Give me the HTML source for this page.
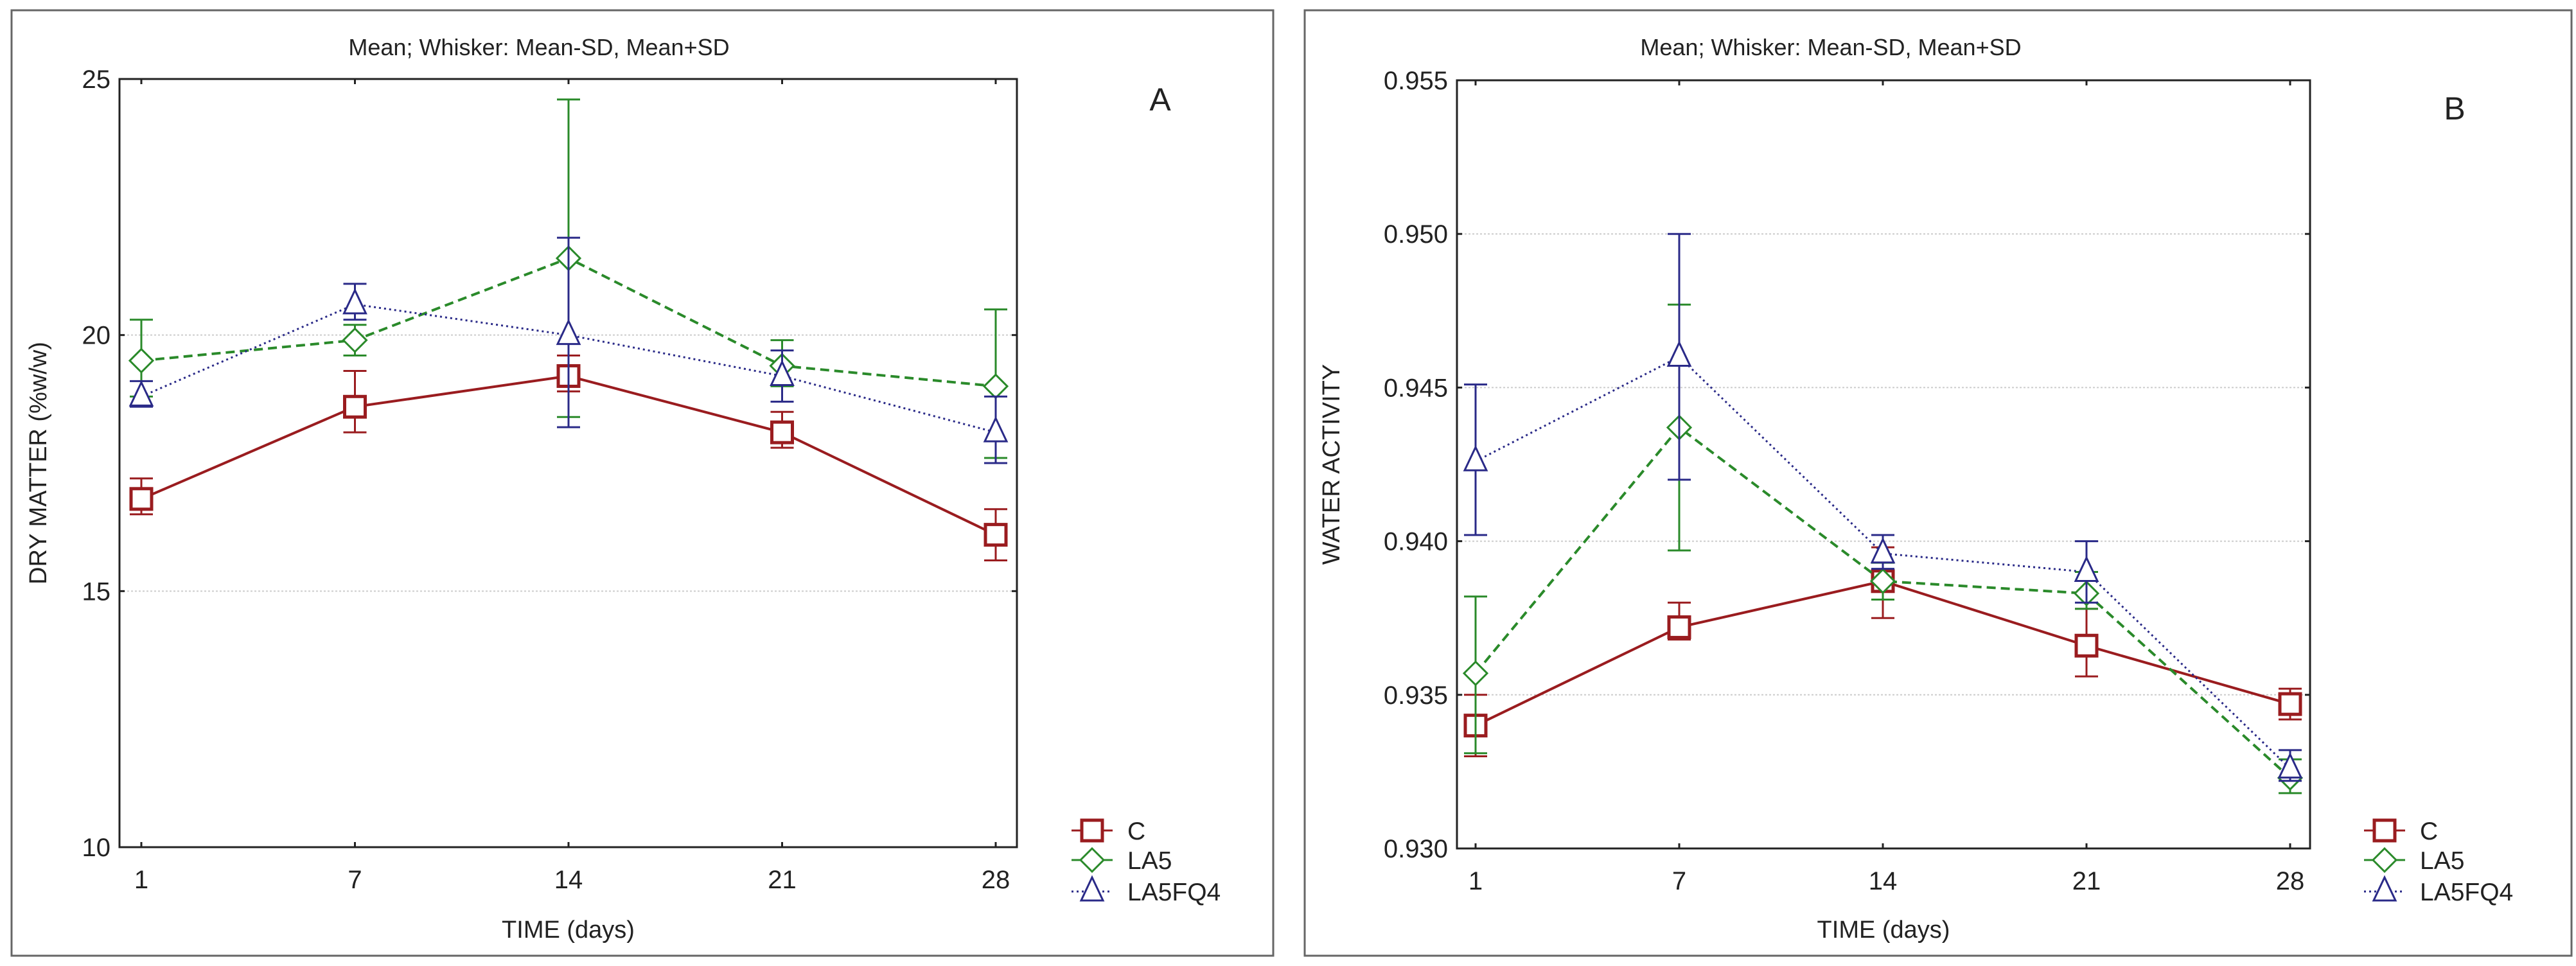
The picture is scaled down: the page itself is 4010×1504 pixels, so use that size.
<!DOCTYPE html>
<html><head><meta charset="utf-8"><style>
body{margin:0;background:#fff}
svg{display:block;font-family:"Liberation Sans",Arial,sans-serif}
</style></head><body>
<svg id="root" width="4010" height="1504" viewBox="0 0 4010 1504" xmlns="http://www.w3.org/2000/svg"></svg>
<script>
const categories = ["1","7","14","21","28"];
const seriesNames = ["C","LA5","LA5FQ4"];
// Panel A: dry matter
const aMean = [[16.8,18.6,19.2,18.1,16.1],[19.5,19.9,21.5,19.4,19.0],[18.8,20.6,20.0,19.2,18.1]];
const aLow  = [[16.5,18.1,18.9,17.8,15.6],[18.8,19.6,18.4,19.0,17.6],[18.6,20.3,18.2,18.7,17.5]];
const aHigh = [[17.2,19.3,19.6,18.5,16.6],[20.3,20.2,24.6,19.9,20.5],[19.1,21.0,21.9,19.7,18.8]];
const aTicks = ["10","15","20","25"];
const aTickVals = [10,15,20,25];
// Panel B: water activity
const bMean = [[0.9340,0.9372,0.9387,0.9366,0.9347],[0.9357,0.9437,0.9387,0.9383,0.9323],[0.9426,0.9460,0.9396,0.9390,0.9326]];
const bLow  = [[0.9330,0.9368,0.9375,0.9356,0.9342],[0.9331,0.9397,0.9381,0.9378,0.9318],[0.9402,0.9420,0.9391,0.9380,0.9322]];
const bHigh = [[0.9350,0.9380,0.9398,0.9378,0.9352],[0.9382,0.9477,0.9393,0.9390,0.9329],[0.9451,0.9500,0.9402,0.9400,0.9332]];
const bTicks = ["0.930","0.935","0.940","0.945","0.950","0.955"];
const bTickVals = [0.930,0.935,0.940,0.945,0.950,0.955];

const colors=["#9a1c1f","#2a8a2a","#2a2a88"];
const dashes=["none","14,8","3,5"];
const NS="http://www.w3.org/2000/svg";
const root=document.getElementById('root');
function mk(tag,attrs,parent,text){const e=document.createElementNS(NS,tag);for(const k in attrs)e.setAttribute(k,attrs[k]);if(text!==undefined)e.textContent=text;(parent||root).appendChild(e);return e;}

function panel(cfg){
  const g=mk('g',{});
  
  
  const fr=mk('rect',{x:cfg.fx,y:cfg.fy,width:cfg.fw,height:cfg.fh,fill:'none',stroke:'#666','stroke-width':3},g);
  
  
  const L=cfg.L,R=cfg.R,T=cfg.T,B=cfg.B;
  const ymin=cfg.tv[0],ymax=cfg.tv[cfg.tv.length-1];
  const y=v=>B-(v-ymin)/(ymax-ymin)*(B-T);
  const x=i=>cfg.x0+i*cfg.dx;
  // grid
  cfg.tv.forEach((v,i)=>{
    if(i>0&&i<cfg.tv.length-1){const gl=mk('line',{x1:L,x2:R,y1:y(v),y2:y(v),stroke:'#ccc','stroke-width':2,'stroke-dasharray':'3,3'},g);
    
    }
    const tk=mk('line',{x1:L,x2:L+8,y1:y(v),y2:y(v),stroke:'#222','stroke-width':3},g);
    
    
    mk('line',{x1:R,x2:R-8,y1:y(v),y2:y(v),stroke:'#222','stroke-width':3},g);
    const t=mk('text',{x:L-14,y:y(v)+14,'text-anchor':'end','font-size':40,fill:'#222'},g,cfg.tl[i]);
    
    
  });
  const ax=mk('rect',{x:L,y:T,width:R-L,height:B-T,fill:'none',stroke:'#222','stroke-width':3},g);
  
  
  categories.forEach((c,i)=>{
    mk('line',{x1:x(i),x2:x(i),y1:B,y2:B-8,stroke:'#222','stroke-width':3},g);
    mk('line',{x1:x(i),x2:x(i),y1:T,y2:T+8,stroke:'#222','stroke-width':3},g);
    const t=mk('text',{x:x(i),y:B+64,'text-anchor':'middle','font-size':40,fill:'#222'},g,c);
    
    
  });
  // series
  cfg.mean.forEach((s,k)=>{
    const sg=mk('g',{},g);
    
    
    const pts=s.map((v,i)=>x(i)+','+y(v)).join(' ');
    const pl=mk('polyline',{points:pts,fill:'none',stroke:colors[k],'stroke-width':k==2?3:4,'stroke-dasharray':dashes[k]},sg);
    
    
    s.forEach((v,i)=>{
      const lo=cfg.low[k][i],hi=cfg.high[k][i],cx=x(i),cy=y(v);
      const eb=mk('path',{d:`M${cx},${y(lo)}V${y(hi)}M${cx-18},${y(lo)}h36M${cx-18},${y(hi)}h36`,stroke:colors[k],'stroke-width':3,fill:'none'},sg);
      
      
      marker(sg,k,cx,cy);
    });
  });
  // title etc
  const ti=mk('text',{x:cfg.tx,y:cfg.fy+70,'text-anchor':'middle','font-size':36,fill:'#222'},g,'Mean;  Whisker: Mean-SD, Mean+SD');
  
  
  const lt=mk('text',{x:cfg.lx,y:cfg.ly,'text-anchor':'middle','font-size':50,fill:'#222'},g,cfg.letter);
  
  
  const yl=mk('text',{x:0,y:0,'text-anchor':'middle','font-size':38,fill:'#222',transform:`translate(${cfg.yx},${(T+B)/2}) rotate(-90)`},g,cfg.ylab);
  
  
  const xl=mk('text',{x:(L+R)/2,y:1460,'text-anchor':'middle','font-size':38,fill:'#222'},g,'TIME (days)');
  
  
  // legend
  const legY=[1293,1339,1388];
  seriesNames.forEach((n,k)=>{
    const lg=mk('g',{},g);
    
    
    mk('line',{x1:cfg.legx-32,x2:cfg.legx+32,y1:legY[k],y2:legY[k],stroke:colors[k],'stroke-width':3,'stroke-dasharray':k==2?'3,5':'none'},lg);
    marker(lg,k,cfg.legx,legY[k]);
    mk('text',{x:cfg.legx+55,y:legY[k]+14,'font-size':39,fill:'#222'},lg,n);
  });
}
function marker(p,k,cx,cy){
  let m;
  if(k==0)m=mk('rect',{x:cx-16,y:cy-16,width:32,height:32,fill:'#fff',stroke:colors[0],'stroke-width':5},p);
  else if(k==1)m=mk('path',{d:`M${cx},${cy-18}L${cx+18},${cy}L${cx},${cy+18}L${cx-18},${cy}Z`,fill:'#fff',stroke:colors[1],'stroke-width':3},p);
  else m=mk('path',{d:`M${cx},${cy-22}L${cx+17},${cy+14}L${cx-17},${cy+14}Z`,fill:'#fff',stroke:colors[2],'stroke-width':3},p);
  
  
}
panel({name:'panel-a-dry-matter',fx:18,fy:16,fw:1964,fh:1472,L:186,R:1583,T:123,B:1319,x0:220,dx:332.5,
  tv:aTickVals,tl:aTicks,mean:aMean,low:aLow,high:aHigh,tx:839,lx:1806,ly:172,letter:'A',yx:72,ylab:'DRY MATTER (%w/w)',legx:1700});
panel({name:'panel-b-water-activity',fx:2031,fy:16,fw:1972,fh:1472,L:2268,R:3596,T:125,B:1321,x0:2297,dx:317,
  tv:bTickVals,tl:bTicks,mean:bMean,low:bLow,high:bHigh,tx:2850,lx:3821,ly:186,letter:'B',yx:2085,ylab:'WATER ACTIVITY',legx:3712});
</script>
</body></html>
